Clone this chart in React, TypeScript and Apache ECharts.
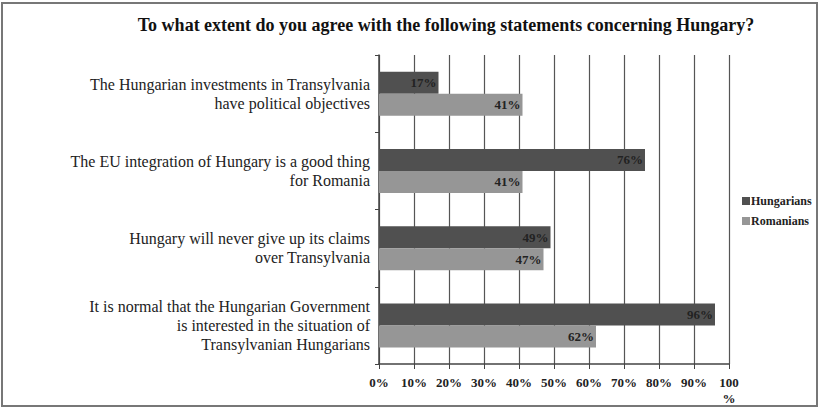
import React, { useEffect, useRef } from "react";
import * as echarts from "echarts";

const categories = [
  "The Hungarian investments in Transylvania\nhave political objectives",
  "The EU integration of Hungary is a good thing\nfor Romania",
  "Hungary will never give up its claims\nover Transylvania",
  "It is normal that the Hungarian Government\nis interested in the situation of\nTransylvanian Hungarians",
];
const hungarians = [17, 76, 49, 96];
const romanians = [41, 41, 47, 62];
const titleText = "To what extent do you agree with the following statements concerning Hungary?";

export default function App() {
  const ref = useRef<HTMLDivElement>(null);
  useEffect(() => {
    if (!ref.current) return;
    const chart = echarts.init(ref.current, undefined, { renderer: "svg" });
    const serif = "'Liberation Serif', 'Times New Roman', serif";
    const barLabel = {
      show: true,
      position: "insideRight",
      formatter: "{c}%",
      fontFamily: serif,
      fontSize: 13,
      fontWeight: "bold",
      color: "#222",
      offset: [3, 0],
    };
    chart.setOption({
      animation: false,
      backgroundColor: "#ffffff",
      title: {
        text: titleText,
        left: 441,
        top: 11,
        textAlign: "center",
        textStyle: { fontFamily: serif, fontSize: 18, fontWeight: "bold", color: "#111" },
      },
      legend: {
        orient: "vertical",
        left: 737,
        top: 190,
        itemWidth: 8,
        itemHeight: 8,
        itemGap: 8,
        icon: "rect",
        textStyle: { fontFamily: serif, fontSize: 12, fontWeight: "bold", color: "#222", padding: [0, 0, 0, -4] },
        data: ["Hungarians", "Romanians"],
      },
      grid: { left: 379, right: 90, top: 55, bottom: 45, containLabel: false },
      xAxis: {
        type: "value",
        min: 0,
        max: 100,
        interval: 10,
        axisLine: { show: true, lineStyle: { color: "#444", width: 1.5 } },
        axisTick: { show: true, length: 5, lineStyle: { color: "#444" } },
        splitLine: { show: true, lineStyle: { color: "#555", width: 1.2 } },
        axisLabel: {
          fontFamily: serif,
          fontSize: 13,
          fontWeight: "bold",
          color: "#222",
          margin: 10,
          lineHeight: 16,
          formatter: (v: number) => (v === 100 ? "100\n%" : v + "%"),
        },
      },
      yAxis: {
        type: "category",
        inverse: true,
        data: categories,
        axisLine: { show: true, lineStyle: { color: "#444", width: 1.5 } },
        axisTick: { show: true, length: 4, lineStyle: { color: "#444" } },
        axisLabel: {
          fontFamily: serif,
          fontSize: 16,
          color: "#222",
          lineHeight: 19,
          margin: 9,
          align: "right",
        },
      },
      series: [
        {
          name: "Hungarians",
          type: "bar",
          data: hungarians,
          barWidth: 22,
          barGap: "0%",
          itemStyle: { color: "#505050" },
          label: barLabel,
        },
        {
          name: "Romanians",
          type: "bar",
          data: romanians,
          barWidth: 22,
          itemStyle: { color: "#969696" },
          label: barLabel,
        },
      ],
      graphic: [
        {
          type: "rect",
          shape: { x: 2, y: 3, width: 815, height: 403 },
          style: { fill: "none", stroke: "#777", lineWidth: 2 },
          silent: true,
        },
      ],
    });
    return () => chart.dispose();
  }, []);
  return (
    <div
      ref={ref}
      style={{ position: "absolute", left: 0, top: 0, width: 819, height: 409 }}
    />
  );
}
